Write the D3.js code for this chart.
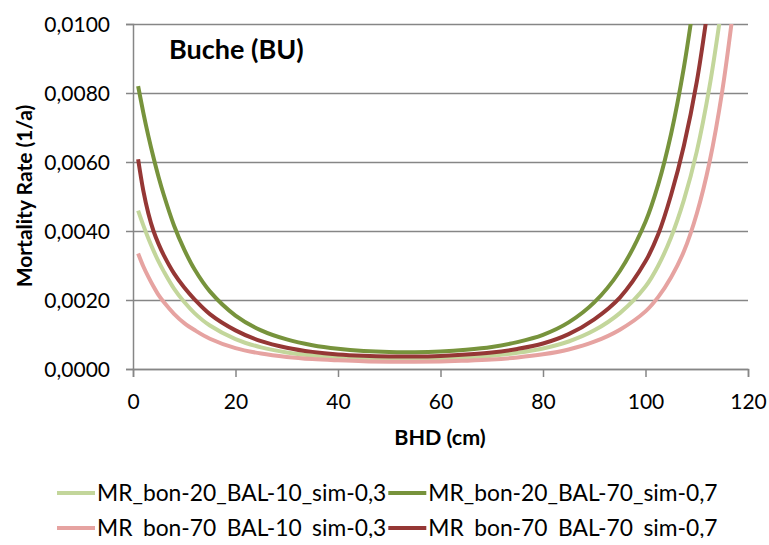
<!DOCTYPE html>
<html>
<head>
<meta charset="utf-8">
<script src="https://cdn.jsdelivr.net/npm/d3@7"></script>
<style>
  html, body { margin: 0; padding: 0; background: #fff; }
  svg { display: block; }
  text { font-family: Lato, "Open Sans", sans-serif; fill: #000; }
</style>
</head>
<body>
<svg id="chart" width="769" height="545"></svg>
<script>
// Diameter at breast height (cm)
const dbh = [1, 2, 3, 4, 5, 6, 8, 10, 12, 15, 20, 25, 30, 35, 40, 45, 50, 55, 60, 65, 70, 75, 80, 85, 90, 95, 100, 102.5, 105, 107.5, 110, 112.5, 115, 117.5];

// Annual mortality rate per scenario (null = beyond the plotted range)
const mrBon20Bal10 = [0.00459, 0.00417, 0.00378, 0.00343, 0.00311, 0.00283, 0.00233, 0.00194, 0.00162, 0.00126, 0.000868, 0.000627, 0.00048, 0.000393, 0.000339, 0.000308, 0.000295, 0.000293, 0.000306, 0.000336, 0.000384, 0.000468, 0.000594, 0.000797, 0.00112, 0.00162, 0.00239, 0.0030, 0.00382, 0.0049, 0.0063, 0.00819, 0.01064, null];
const mrBon20Bal70 = [0.0082, 0.00744, 0.00675, 0.00613, 0.00556, 0.00505, 0.00416, 0.00346, 0.00289, 0.00225, 0.00155, 0.00112, 0.000857, 0.000689, 0.000585, 0.000522, 0.000492, 0.000489, 0.00051, 0.00056, 0.00064, 0.00078, 0.00099, 0.00135, 0.00193, 0.00284, 0.00427, 0.00536, 0.00682, 0.00875, 0.01124, null, null, null];
const mrBon70Bal10 = [0.00335, 0.00298, 0.00267, 0.00239, 0.00214, 0.00194, 0.0016, 0.00133, 0.00113, 0.000878, 0.000605, 0.000448, 0.000351, 0.000289, 0.000252, 0.000224, 0.000212, 0.00021, 0.000219, 0.000241, 0.000275, 0.000335, 0.000426, 0.000567, 0.000791, 0.00114, 0.00167, 0.00209, 0.00266, 0.00341, 0.0045, 0.0060, 0.00808, 0.01087];
const mrBon70Bal70 = [0.00608, 0.00518, 0.00451, 0.0040, 0.00362, 0.0033, 0.00277, 0.00236, 0.00202, 0.00159, 0.00112, 0.000806, 0.000617, 0.000496, 0.000421, 0.000381, 0.000362, 0.000362, 0.00038, 0.000417, 0.000477, 0.000581, 0.000738, 0.00101, 0.00144, 0.00207, 0.00312, 0.00391, 0.00505, 0.00648, 0.00832, 0.01082, null, null];

const seriesNames = ["MR_bon-20_BAL-10_sim-0,3", "MR_bon-20_BAL-70_sim-0,7", "MR_bon-70_BAL-10_sim-0,3", "MR_bon-70_BAL-70_sim-0,7"];
const seriesValues = [mrBon20Bal10, mrBon20Bal70, mrBon70Bal10, mrBon70Bal70];
const seriesColors = ["#c3d69b", "#77933c", "#e6a3a1", "#953735"];

const xTicks = [0, 20, 40, 60, 80, 100, 120];
const yTicks = [0, 0.002, 0.004, 0.006, 0.008, 0.010];

const chartTitle = "Buche (BU)";
const xTitle = "BHD (cm)";
const yTitle = "Mortality Rate (1/a)";

const svg = d3.select("#chart");
const gridColor = "#868686";

const x = d3.scaleLinear().domain([0, 120]).range([133, 748]);
const y = d3.scaleLinear().domain([0, 0.010]).range([369, 24]);

const fmt = v => d3.format(".4f")(v).replace(".", ",");

// Y axis with horizontal gridlines
svg.append("g")
  .attr("transform", `translate(${x(0)},0)`)
  .call(d3.axisLeft(y).tickValues(yTicks).tickSize(7).tickFormat(fmt))
  .call(g => g.select(".domain").attr("stroke", gridColor).attr("stroke-width", 1.5))
  .call(g => g.selectAll(".tick line").attr("stroke", gridColor).attr("stroke-width", 1.5))
  .call(g => g.selectAll(".tick").append("line")
      .attr("x1", 0).attr("x2", x(120) - x(0))
      .attr("stroke", gridColor).attr("stroke-width", 1.5))
  .call(g => g.selectAll(".tick text")
      .attr("x", -23).attr("dy", "0.36em")
      .style("font-size", "21px").style("font-family", "Lato, sans-serif").attr("fill", "#000"));

// X axis
svg.append("g")
  .attr("transform", `translate(0,${y(0)})`)
  .call(d3.axisBottom(x).tickValues(xTicks).tickSize(8).tickFormat(d3.format("d")))
  .call(g => g.select(".domain").attr("stroke", gridColor).attr("stroke-width", 1.5))
  .call(g => g.selectAll(".tick line").attr("stroke", gridColor).attr("stroke-width", 1.5))
  .call(g => g.selectAll(".tick text")
      .attr("y", 40).attr("dy", 0)
      .style("font-size", "21px").style("font-family", "Lato, sans-serif").attr("fill", "#000"));

// Lines are cut off at the top of the value range
svg.append("clipPath").attr("id", "plotClip")
  .append("rect").attr("x", x(0)).attr("y", y(0.010)).attr("width", x(120) - x(0)).attr("height", y(0) - y(0.010));

const line = d3.line()
  .defined(d => d[1] !== null)
  .x(d => x(d[0]))
  .y(d => y(d[1]))
  .curve(d3.curveCatmullRom.alpha(0.5));

svg.append("g").attr("clip-path", "url(#plotClip)")
  .selectAll("path")
  .data(seriesValues)
  .join("path")
  .attr("d", vals => line(dbh.map((d, i) => [d, vals[i]])))
  .attr("fill", "none")
  .attr("stroke", (d, i) => seriesColors[i])
  .attr("stroke-width", 4)
  .attr("stroke-linejoin", "round");

// Titles
svg.append("text").attr("x", 169).attr("y", 59)
  .style("font-size", "27px").style("font-weight", "bold").text(chartTitle);

svg.append("text").attr("x", 440).attr("y", 445).attr("text-anchor", "middle")
  .style("font-size", "21.5px").style("font-weight", "bold").text(xTitle);

svg.append("text").attr("transform", "translate(32,196) rotate(-90)").attr("text-anchor", "middle")
  .style("font-size", "21px").style("font-weight", "bold").text(yTitle);

// Legend: two rows, entries laid out one after another
svg.append("clipPath").attr("id", "legendClip")
  .append("rect").attr("x", 0).attr("y", 470).attr("width", 769).attr("height", 68);

const legendG = svg.append("g").attr("clip-path", "url(#legendClip)");
const legendRows = [[0, 1], [2, 3]];
const rowY = [493, 528];
legendRows.forEach((row, r) => {
  let cx = 57;
  row.forEach(i => {
    legendG.append("line")
      .attr("x1", cx).attr("x2", cx + 38).attr("y1", rowY[r]).attr("y2", rowY[r])
      .attr("stroke", seriesColors[i]).attr("stroke-width", 4);
    const t = legendG.append("text")
      .attr("x", cx + 40).attr("y", rowY[r]).attr("dy", "0.36em")
      .style("font-size", "22.8px").text(seriesNames[i]);
    cx = cx + 40 + t.node().getComputedTextLength() + 2;
  });
});
</script>
</body>
</html>
